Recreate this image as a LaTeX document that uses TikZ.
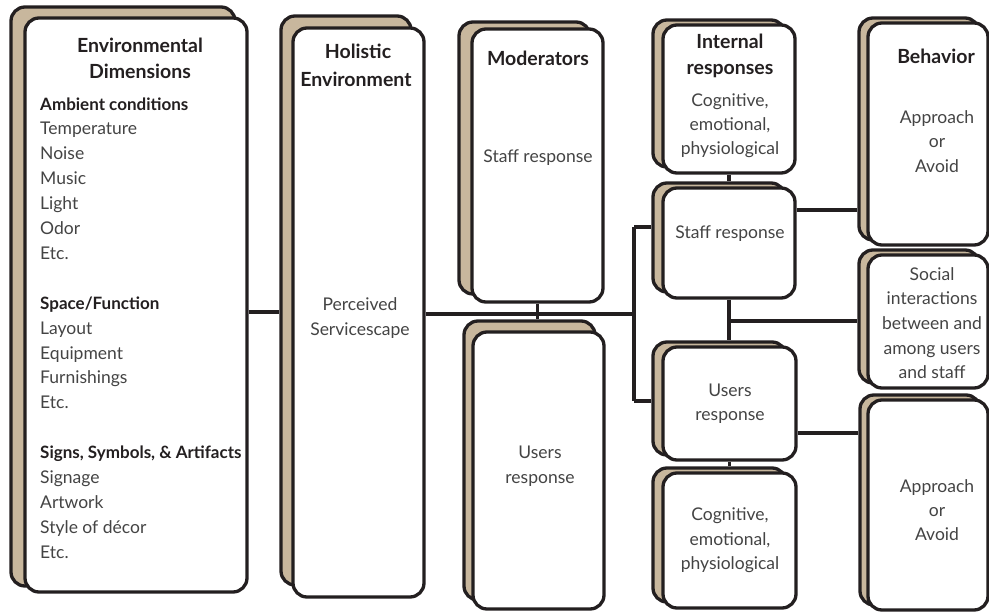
\documentclass[tikz,border=0pt]{standalone}
\usepackage{fontspec}
\setmainfont{Lato}
\usetikzlibrary{fit}
\definecolor{ink}{HTML}{231F20}
\definecolor{tan}{HTML}{C8B79D}
\definecolor{txt}{HTML}{444444}

% one card = tan back sheet + white front sheet
\newcommand\cardpair[9]{%
  \node[backcard, fit={(#6,#7)(#8,#9)}] (#1B) {};
  \node[frontcard, fit={(#2,#3)(#4,#5)}] (#1) {};}

\begin{document}
\begin{tikzpicture}[x=1pt, y=-1pt,
  backcard/.style={draw=ink, fill=tan, line width=3.3pt, rounded corners=14pt, inner sep=0pt},
  frontcard/.style={draw=ink, fill=white, line width=3.3pt, rounded corners=14pt, inner sep=0pt},
  wire/.style={draw=ink, line width=3.3pt},
  head/.style={font=\bfseries\fontsize{19.5}{23}\selectfont, text=ink, inner sep=0pt, anchor=base},
  subhead/.style={font=\bfseries\fontsize{17}{21}\selectfont, text=ink, inner sep=0pt, anchor=base west},
  body/.style={font=\fontsize{17.5}{21}\selectfont, text=txt, inner sep=0pt, anchor=base},
  item/.style={body, anchor=base west}]
\useasboundingbox (0,0) rectangle (989,613);

% cards
\cardpair{env}{25}{18}{247}{592}{11}{7}{235}{586}
\cardpair{hol}{293}{28}{424}{597}{281}{16}{411}{585}
\cardpair{modS}{472}{29}{603}{302}{459}{22}{590}{294}
\cardpair{modU}{473}{332}{604}{609}{464}{321}{595}{600}
\cardpair{ir}{663}{25}{795}{173}{653}{20}{785}{167}
\cardpair{isr}{663}{188}{795}{298}{653}{183}{785}{292}
\cardpair{iur}{663}{347}{796}{460}{653}{342}{786}{455}
\cardpair{icog}{663}{473}{796}{608}{653}{468}{786}{602}
\cardpair{beh}{868}{23}{988}{245}{859}{18}{979}{240}
\cardpair{soc}{868}{255}{988}{388}{859}{250}{979}{383}
\cardpair{behB2}{868}{400}{988}{610}{860}{395}{980}{605}

% connectors
\coordinate (envLine) at (0,312);
\coordinate (busT) at (634,227);
\coordinate (busM) at (634,314);
\coordinate (busB) at (634,401);
\coordinate (socLine) at (0,321);
\coordinate (behLine) at (0,210);
\coordinate (beh2Line) at (0,433);
\draw[wire] (env.east |- envLine) -- (holB.west |- envLine);
\draw[wire] (hol.east |- busM) -- (busM);
\draw[wire] (busT) -- (busB);
\draw[wire] (busT) -- (isrB.west |- busT);
\draw[wire] (busB) -- (iurB.west |- busB);
\draw[wire] (modS.south) -- (modUB.north -| modS.south);
\draw[wire] (ir.south) -- (isrB.north -| ir.south);
\draw[wire] (isr.south) -- (iurB.north -| isr.south);
\draw[wire] (isr.south |- socLine) -- (socB.west |- socLine);
\draw[wire] (isr.east |- behLine) -- (behB.west |- behLine);
\draw[wire] (iur.east |- beh2Line) -- (behB2B.west |- beh2Line);
\draw[wire] (iur.south) -- (icogB.north -| iur.south);

% environmental dimensions
\node[head] (envH1) at (140,52) {Environmental};
\node[head] (envH2) at (140,78) {Dimensions};
\node[subhead] (envS1) at (40,110) {Ambient conditions};
\node[subhead] (envS2) at (40,{110+24.9*8}) {Space/Function};
\node[subhead] (envS3) at (40,{110+24.9*14}) {Signs, Symbols, \& Artifacts};
\foreach \k/\t in {1/Temperature,2/Noise,3/Music,4/Light,5/Odor,6/Etc.,
                   9/Layout,10/Equipment,11/Furnishings,12/Etc.,
                   15/Signage,16/Artwork,17/Style of décor,18/Etc.}
  \node[item] (envI\k) at (40,{110+24.9*\k}) {\t};

% holistic environment
\node[head] (holH1) at (358,58) {Holistic};
\node[head] (holH2) at (356,86) {Environment};
\node[body] (holT1) at (360,310) {Perceived};
\node[body] (holT2) at (360,335) {Servicescape};

% moderators
\node[head] (modH) at (538,65) {Moderators};
\node[body] (modT1) at (538,162) {Staff response};
\node[body] (modT2) at (540,458) {Users};
\node[body] (modT3) at (540,483) {response};

% internal responses
\node[head] (irH1) at (730,48) {Internal};
\node[head] (irH2) at (730,74) {responses};
\node[body] (irT1) at (730,106) {Cognitive,};
\node[body] (irT2) at (730,130) {emotional,};
\node[body] (irT3) at (730,154) {physiological};
\node[body] (isrT) at (730,238) {Staff response};
\node[body] (iurT1) at (730,396) {Users};
\node[body] (iurT2) at (730,420) {response};
\node[body] (icT1) at (730,520) {Cognitive,};
\node[body] (icT2) at (730,545) {emotional,};
\node[body] (icT3) at (730,569) {physiological};

% behavior
\node[head] (behH) at (936,63) {Behavior};
\node[body] (behT1) at (937,123) {Approach};
\node[body] (behT2) at (937,147) {or};
\node[body] (behT3) at (937,172) {Avoid};
\node[body] (socT1) at (932,280) {Social};
\node[body] (socT2) at (932,304.5) {interactions};
\node[body] (socT3) at (932,329) {between and};
\node[body] (socT4) at (932,354) {among users};
\node[body] (socT5) at (932,378) {and staff};
\node[body] (bh2T1) at (937,492) {Approach};
\node[body] (bh2T2) at (937,516) {or};
\node[body] (bh2T3) at (937,540) {Avoid};
\end{tikzpicture}
\end{document}
